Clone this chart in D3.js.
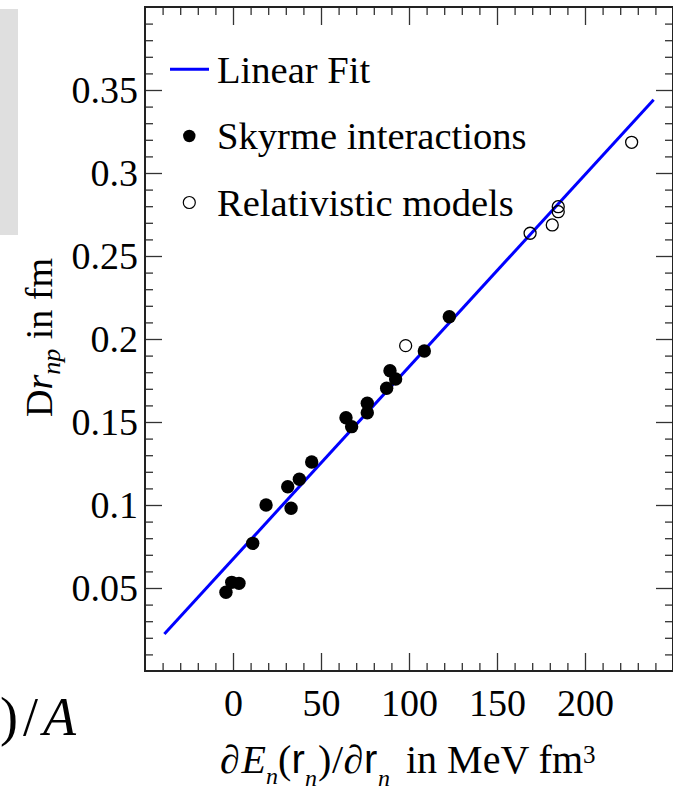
<!DOCTYPE html>
<html>
<head>
<meta charset="utf-8">
<script src="https://cdn.jsdelivr.net/npm/d3@7"></script>
<style>
  body { margin: 0; background: #fff; }
  svg { display: block; }
</style>
</head>
<body>
<svg id="chart" width="673" height="792"></svg>
<script>
// Neutron-skin thickness vs. density derivative of the neutron energy
const skyrmeX = [-4.0, -0.7, 3.4, 11.2, 18.8, 31.1, 33.0, 37.7, 44.7, 64.2, 67.4, 76.3, 76.3, 87.3, 89.2, 92.4, 108.7, 122.9];
const skyrmeY = [0.0474, 0.0534, 0.0528, 0.0769, 0.1000, 0.1110, 0.0980, 0.1155, 0.1259, 0.1526, 0.1472, 0.1613, 0.1556, 0.1703, 0.1809, 0.1759, 0.1928, 0.2134];
const relX = [98.1, 168.8, 181.4, 184.8, 184.8, 226.5];
const relY = [0.1960, 0.2637, 0.2687, 0.2767, 0.2797, 0.3185];
const fitIntercept = 0.0674;
const fitSlope = 0.001158;
const fitRange = [-39, 239];
const xTickLabels = [0, 50, 100, 150, 200];
const yTickLabels = [0.05, 0.1, 0.15, 0.2, 0.25, 0.3, 0.35];
const legendLabels = ["Linear Fit", "Skyrme interactions", "Relativistic models"];

const SERIF = "'Liberation Serif', 'Times New Roman', serif";
const SANS = "'Liberation Sans', Arial, sans-serif";

const svg = d3.select("#chart");
const plotL = 145, plotR = 673, plotT = 7, plotB = 671;

const x = d3.scaleLinear().domain([-50, 250]).range([plotL, plotR]);
const y = d3.scaleLinear().domain([0, 0.4]).range([plotB, plotT]);

// grey panel strip at the far left
svg.append("rect").attr("x", 0).attr("y", 9).attr("width", 18).attr("height", 226).attr("fill", "#dfdfdf");

// leftover piece of a neighbouring formula
const frag = svg.append("text").attr("y", 735).attr("font-family", SERIF).attr("font-size", 54);
frag.append("tspan").attr("x", 0).text(")");
frag.append("tspan").attr("x", 23).text("/");
frag.append("tspan").attr("x", 43).attr("font-style", "italic").text("A");

// tick values
const xMinor = d3.range(-40, 250, 10).filter(v => v % 50 !== 0);
const yMinor = d3.range(1, 40).map(v => v / 100).filter(v => Math.round(v * 100) % 5 !== 0);

function styleAxis(g) {
  g.select(".domain").remove();
  g.selectAll(".tick line").attr("stroke", "#333").attr("stroke-width", 1.3);
  g.selectAll("text").attr("font-family", SERIF).attr("font-size", 38).attr("fill", "#000");
}

// bottom axis (labels) + minors
svg.append("g").attr("transform", `translate(0,${plotB})`)
  .call(d3.axisBottom(x).tickValues(xTickLabels).tickSizeInner(-18).tickSizeOuter(0).tickPadding(18).tickFormat(d3.format("d")))
  .call(styleAxis);
svg.append("g").attr("transform", `translate(0,${plotB})`)
  .call(d3.axisBottom(x).tickValues(xMinor).tickSizeInner(-8).tickSizeOuter(0).tickFormat(""))
  .call(styleAxis);
// top axis
svg.append("g").attr("transform", `translate(0,${plotT})`)
  .call(d3.axisTop(x).tickValues(xTickLabels).tickSizeInner(-18).tickSizeOuter(0).tickFormat(""))
  .call(styleAxis);
svg.append("g").attr("transform", `translate(0,${plotT})`)
  .call(d3.axisTop(x).tickValues(xMinor).tickSizeInner(-8).tickSizeOuter(0).tickFormat(""))
  .call(styleAxis);
// left axis (labels)
svg.append("g").attr("transform", `translate(${plotL},0)`)
  .call(d3.axisLeft(y).tickValues(yTickLabels).tickSizeInner(-17).tickSizeOuter(0).tickPadding(7).tickFormat(d => String(+d.toFixed(2))))
  .call(styleAxis);
svg.append("g").attr("transform", `translate(${plotL},0)`)
  .call(d3.axisLeft(y).tickValues(yMinor).tickSizeInner(-8).tickSizeOuter(0).tickFormat(""))
  .call(styleAxis);
// right axis
svg.append("g").attr("transform", `translate(${plotR},0)`)
  .call(d3.axisRight(y).tickValues(yTickLabels).tickSizeInner(-17).tickSizeOuter(0).tickFormat(""))
  .call(styleAxis);
svg.append("g").attr("transform", `translate(${plotR},0)`)
  .call(d3.axisRight(y).tickValues(yMinor).tickSizeInner(-8).tickSizeOuter(0).tickFormat(""))
  .call(styleAxis);

// frame
svg.append("rect").attr("x", plotL).attr("y", plotT).attr("width", plotR - plotL).attr("height", plotB - plotT)
  .attr("fill", "none").attr("stroke", "#222").attr("stroke-width", 2);

// linear fit
const fitPts = fitRange.map(v => [v, fitIntercept + fitSlope * v]);
svg.append("path").datum(fitPts)
  .attr("d", d3.line().x(d => x(d[0])).y(d => y(d[1])))
  .attr("fill", "none").attr("stroke", "#0000ff").attr("stroke-width", 3);

// Skyrme interactions (filled)
svg.append("g").selectAll("circle").data(d3.zip(skyrmeX, skyrmeY)).join("circle")
  .attr("cx", d => x(d[0])).attr("cy", d => y(d[1])).attr("r", 6.7).attr("fill", "#000");

// Relativistic models (open)
svg.append("g").selectAll("circle").data(d3.zip(relX, relY)).join("circle")
  .attr("cx", d => x(d[0])).attr("cy", d => y(d[1])).attr("r", 6)
  .attr("fill", "none").attr("stroke", "#000").attr("stroke-width", 1.3);

// legend
const legY = [83, 149, 215.5];
const leg = svg.append("g");
leg.append("line").attr("x1", 170).attr("x2", 209).attr("y1", legY[0] - 13.7).attr("y2", legY[0] - 13.7)
  .attr("stroke", "#0000ff").attr("stroke-width", 3);
leg.append("circle").attr("cx", 189.3).attr("cy", legY[1] - 13).attr("r", 6.2).attr("fill", "#000");
leg.append("circle").attr("cx", 189.3).attr("cy", legY[2] - 13).attr("r", 6)
  .attr("fill", "none").attr("stroke", "#000").attr("stroke-width", 1.2);
leg.selectAll("text").data(legendLabels).join("text")
  .attr("x", 217).attr("y", (d, i) => legY[i])
  .attr("font-family", SERIF).attr("font-size", 38.6).attr("fill", "#000")
  .text(d => d);

// x-axis title: ∂E_n(r_n)/∂r_n in MeV fm^3
const xBase = 773;
const xt = svg.append("text").attr("font-family", SERIF).attr("font-size", 40).attr("fill", "#000");
const part = (txt, px, py, opts = {}) => {
  const t = xt.append("tspan").attr("x", px).attr("y", py).text(txt);
  if (opts.italic) t.attr("font-style", "italic");
  if (opts.size) t.attr("font-size", opts.size);
  if (opts.family) t.attr("font-family", opts.family);
  return t;
};
part("∂", 220, xBase);
part("E", 241.5, xBase, { italic: true });
part("n", 266, 784, { italic: true, size: 24 });
part("(", 278, xBase);
part("r", 291.5, xBase, { family: SANS });
part("n", 305, 786, { italic: true, size: 24 });
part(")", 318, xBase);
part("/", 332, xBase);
part("∂", 343.5, xBase);
part("r", 364, xBase, { family: SANS });
part("n", 378, 786, { italic: true, size: 24 });
part("in MeV fm", 406, xBase);
xt.append("tspan").attr("font-size", 25).attr("dy", -10).text("3");

// y-axis title
const yt = svg.append("text").attr("transform", "translate(52,337.5) rotate(-90)")
  .attr("text-anchor", "middle").attr("font-family", SERIF).attr("font-size", 38).attr("fill", "#000");
yt.append("tspan").text("D");
yt.append("tspan").attr("font-style", "italic").text("r");
yt.append("tspan").attr("font-style", "italic").attr("font-size", 26).attr("dy", 8).text("np");
yt.append("tspan").attr("dy", -8).text(" in fm");
</script>
</body>
</html>
